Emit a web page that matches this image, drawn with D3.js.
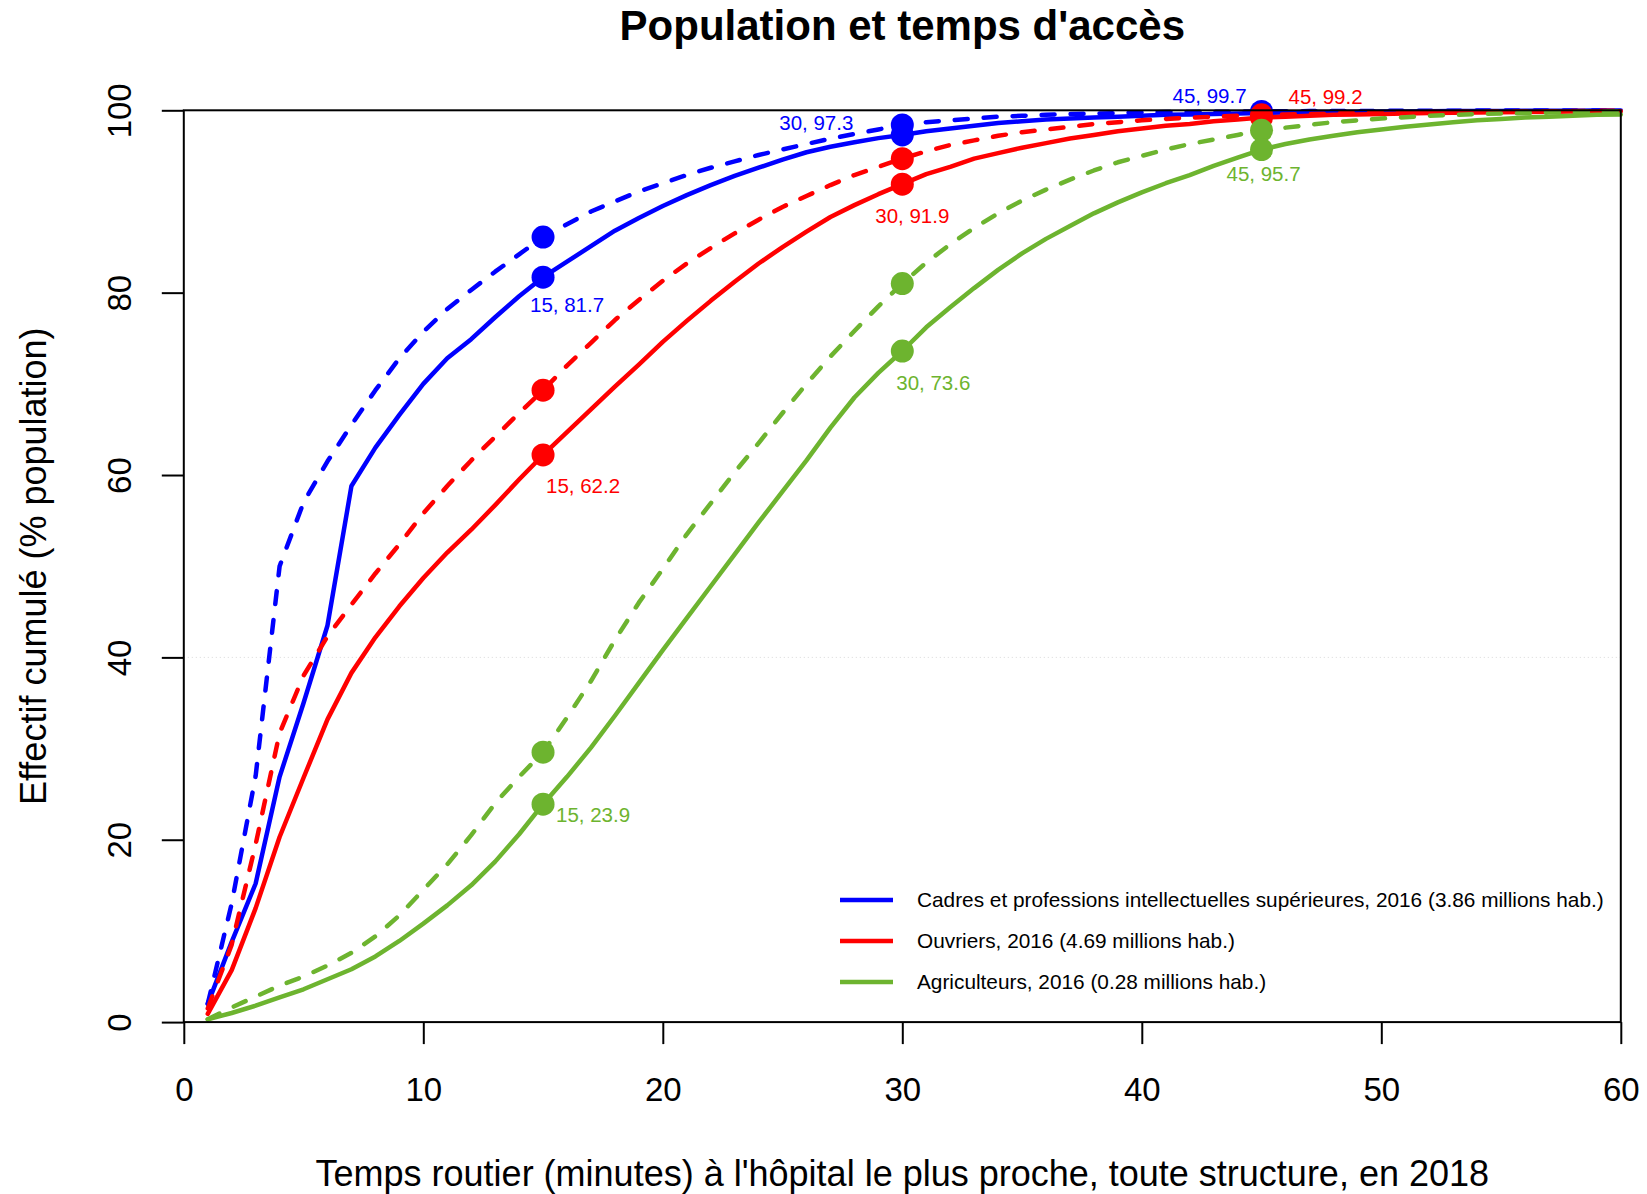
<!DOCTYPE html>
<html>
<head>
<meta charset="utf-8">
<script src="https://cdn.jsdelivr.net/npm/d3@7"></script>
<style>
  html, body { margin: 0; padding: 0; background: #fff; }
  svg { display: block; font-family: "Liberation Sans", Arial, Helvetica, sans-serif; }
</style>
</head>
<body>
<svg id="chart" width="1647" height="1194"></svg>
<script>
// ---------------- DATA ----------------
const minutes = d3.range(1, 61);

const cadresSolid = [2.0, 8.8, 15.2, 26.9, 35.0, 43.5, 58.8, 63.0, 66.6, 70.0,
  72.8, 74.9, 77.3, 79.6, 81.7, 83.4, 85.1, 86.8, 88.2, 89.5,
  90.7, 91.8, 92.8, 93.7, 94.6, 95.4, 96.0, 96.5, 96.95, 97.3,
  97.7, 98.0, 98.3, 98.6, 98.8, 99.0, 99.1, 99.2, 99.3, 99.4,
  99.5, 99.55, 99.6, 99.65, 99.7, 99.75, 99.8, 99.82, 99.84, 99.86,
  99.88, 99.9, 99.91, 99.92, 99.93, 99.94, 99.95, 99.96, 99.97, 99.98];

const cadresDashed = [2.0, 13.0, 27.0, 50.0, 57.0, 61.5, 65.5, 69.3, 72.8, 75.7,
  78.2, 80.3, 82.3, 84.2, 86.1, 87.5, 88.9, 90.0, 91.1, 92.0,
  92.9, 93.7, 94.4, 95.1, 95.7, 96.3, 96.9, 97.4, 97.9, 98.4,
  98.7, 98.9, 99.1, 99.3, 99.4, 99.5, 99.6, 99.65, 99.7, 99.75,
  99.8, 99.82, 99.84, 99.86, 99.88, 99.9, 99.91, 99.92, 99.93, 99.94,
  99.95, 99.96, 99.96, 99.97, 99.97, 99.98, 99.98, 99.99, 99.99, 99.99];

const ouvriersSolid = [0.9, 5.7, 12.5, 20.3, 26.8, 33.2, 38.3, 42.2, 45.6, 48.7,
  51.5, 54.0, 56.7, 59.5, 62.2, 64.7, 67.2, 69.7, 72.1, 74.6,
  76.9, 79.1, 81.2, 83.2, 85.0, 86.7, 88.3, 89.6, 90.8, 91.9,
  93.0, 93.8, 94.7, 95.3, 95.9, 96.4, 96.9, 97.3, 97.7, 98.0,
  98.3, 98.5, 98.8, 99.0, 99.2, 99.3, 99.4, 99.5, 99.55, 99.6,
  99.65, 99.7, 99.72, 99.75, 99.78, 99.8, 99.83, 99.86, 99.88, 99.9];

const ouvriersDashed = [1.5, 8.5, 19.5, 31.7, 38.0, 42.3, 45.8, 49.2, 52.4, 55.8,
  58.8, 61.6, 64.2, 66.8, 69.3, 72.0, 74.5, 77.0, 79.2, 81.3,
  83.2, 84.9, 86.5, 88.0, 89.4, 90.6, 91.8, 92.9, 93.8, 94.7,
  95.5, 96.2, 96.7, 97.2, 97.6, 97.9, 98.2, 98.5, 98.7, 98.9,
  99.05, 99.2, 99.3, 99.4, 99.5, 99.55, 99.6, 99.65, 99.7, 99.75,
  99.78, 99.8, 99.82, 99.84, 99.86, 99.88, 99.9, 99.92, 99.94, 99.95];

const agriSolid = [0.3, 1.0, 1.8, 2.7, 3.6, 4.7, 5.8, 7.2, 8.9, 10.8,
  12.8, 15.0, 17.6, 20.6, 23.9, 26.9, 30.1, 33.6, 37.2, 40.8,
  44.3, 47.8, 51.3, 54.8, 58.2, 61.6, 65.2, 68.5, 71.2, 73.6,
  76.2, 78.4, 80.5, 82.5, 84.3, 85.9, 87.3, 88.7, 89.9, 91.0,
  92.0, 92.9, 93.9, 94.8, 95.7, 96.3, 96.8, 97.2, 97.6, 97.9,
  98.2, 98.45, 98.7, 98.9, 99.05, 99.2, 99.3, 99.4, 99.5, 99.55];

const agriDashed = [0.3, 1.6, 2.8, 4.0, 5.0, 6.2, 7.6, 9.4, 11.7, 14.5,
  17.3, 20.5, 24.0, 26.9, 29.6, 33.4, 37.4, 41.9, 46.0, 49.7,
  53.5, 56.9, 60.3, 63.5, 66.8, 70.0, 73.0, 75.8, 78.5, 81.0,
  83.3, 85.3, 87.1, 88.7, 90.1, 91.3, 92.4, 93.4, 94.3, 95.0,
  95.7, 96.3, 96.8, 97.3, 97.8, 98.1, 98.4, 98.7, 98.9, 99.1,
  99.25, 99.4, 99.5, 99.6, 99.65, 99.7, 99.75, 99.8, 99.85, 99.9];

const markedMinutes = [15, 30, 45];
const xTicks = [0, 10, 20, 30, 40, 50, 60];
const yTicks = [0, 20, 40, 60, 80, 100];
const seriesNames = [
  "Cadres et professions intellectuelles supérieures, 2016 (3.86 millions hab.)",
  "Ouvriers, 2016 (4.69 millions hab.)",
  "Agriculteurs, 2016 (0.28 millions hab.)"
];
const colors = ["#0000FF", "#FF0000", "#6DB42F"];
const titleText = "Population et temps d'accès";
const xTitle = "Temps routier (minutes) à l'hôpital le plus proche, toute structure, en 2018";
const yTitle = "Effectif cumulé (% population)";

// label offsets (style) for each series at 15, 30, 45
const labelOffsets = [
  [[24, 27], [-86, -12], [-52, -17]],
  [[40, 31], [10, 31], [64, -21]],
  [[50, 10], [31, 32], [2, 24]]
];

// ---------------- CHART ----------------
const svg = d3.select("#chart");
const L = 183.8, R = 1620.8, T = 110.3, B = 1022.1;
const x = d3.scaleLinear().domain([0, 60]).range([L, R]);
const y = d3.scaleLinear().domain([0, 100]).range([B, T]);

// grid line at 40
svg.append("line")
  .attr("x1", x(0)).attr("x2", x(60))
  .attr("y1", y(40)).attr("y2", y(40))
  .attr("stroke", "#d9d9d9").attr("stroke-width", 1)
  .attr("stroke-dasharray", "1,3");

// axes
const xAxis = svg.append("g").attr("transform", `translate(0,${B})`)
  .call(d3.axisBottom(x).tickValues(xTicks).tickSize(22).tickSizeOuter(0).tickPadding(33));
xAxis.select(".domain").remove();
xAxis.selectAll(".tick line").attr("stroke", "#000").attr("stroke-width", 2);
xAxis.selectAll(".tick text").attr("font-size", 33).attr("fill", "#000")
  .attr("font-family", "Liberation Sans, Arial, sans-serif");

const yAxis = svg.append("g").attr("transform", `translate(${L},0)`)
  .call(d3.axisLeft(y).tickValues(yTicks).tickSize(22).tickSizeOuter(0));
yAxis.select(".domain").remove();
yAxis.selectAll(".tick line").attr("stroke", "#000").attr("stroke-width", 2);
yAxis.selectAll(".tick text")
  .attr("font-size", 33).attr("fill", "#000")
  .attr("font-family", "Liberation Sans, Arial, sans-serif")
  .attr("x", null).attr("dy", null)
  .attr("text-anchor", "middle")
  .attr("transform", "translate(-53,0) rotate(-90)");

// lines
const lineGen = d3.line().x((d, i) => x(minutes[i])).y(d => y(d));

const series = [
  { solid: cadresSolid, dashed: cadresDashed },
  { solid: ouvriersSolid, dashed: ouvriersDashed },
  { solid: agriSolid, dashed: agriDashed }
];

const plotG = svg.append("g");
series.forEach((s, si) => {
  const c = colors[si];
  plotG.append("path").datum(s.solid).attr("d", lineGen)
    .attr("fill", "none").attr("stroke", c).attr("stroke-width", 4.5)
    .attr("stroke-linejoin", "round").attr("stroke-linecap", "round");
  plotG.append("path").datum(s.dashed).attr("d", lineGen)
    .attr("fill", "none").attr("stroke", c).attr("stroke-width", 4.5)
    .attr("stroke-dasharray", "13,16").attr("stroke-linecap", "round")
    .attr("stroke-linejoin", "round");
  markedMinutes.forEach((m, k) => {
    const vs = s.solid[m - 1], vd = s.dashed[m - 1];
    plotG.append("circle").attr("cx", x(m)).attr("cy", y(vd)).attr("r", 11.5).attr("fill", c);
    plotG.append("circle").attr("cx", x(m)).attr("cy", y(vs)).attr("r", 11.5).attr("fill", c);
    const off = labelOffsets[si][k];
    plotG.append("text")
      .attr("x", x(m) + off[0]).attr("y", y(vs) + off[1])
      .attr("dy", "0.36em").attr("text-anchor", "middle")
      .attr("font-size", 20.5).attr("fill", c)
      .text(`${m}, ${vs.toFixed(1)}`);
  });
});

// box
svg.append("rect").attr("x", L).attr("y", T).attr("width", R - L).attr("height", B - T)
  .attr("fill", "none").attr("stroke", "#000").attr("stroke-width", 2);

// legend
const legend = svg.append("g");
seriesNames.forEach((name, i) => {
  const ly = 900 + i * 41;
  legend.append("line").attr("x1", 840).attr("x2", 893).attr("y1", ly).attr("y2", ly)
    .attr("stroke", colors[i]).attr("stroke-width", 4.5);
  legend.append("text").attr("x", 917).attr("y", ly).attr("dy", "0.36em")
    .attr("font-size", 20.8).attr("fill", "#000").text(name);
});

// titles
svg.append("text").attr("x", (L + R) / 2).attr("y", 40)
  .attr("text-anchor", "middle").attr("font-size", 42).attr("font-weight", "bold")
  .text(titleText);
svg.append("text").attr("x", (L + R) / 2).attr("y", 1186)
  .attr("text-anchor", "middle").attr("font-size", 36).text(xTitle);
svg.append("text").attr("transform", `translate(46,${(T + B) / 2}) rotate(-90)`)
  .attr("text-anchor", "middle").attr("font-size", 36).text(yTitle);
</script>
</body>
</html>
